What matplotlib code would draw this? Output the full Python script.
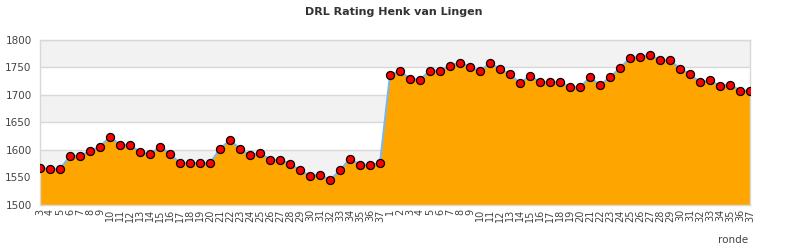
import numpy as np
import matplotlib
matplotlib.use("Agg")
import matplotlib.pyplot as plt

# Rating per round (two seasons back to back)
rounds_a = list(range(3, 38))
rating_a = [1567, 1565, 1565, 1589, 1589, 1598, 1606, 1624, 1609, 1609,
            1596, 1592, 1606, 1593, 1576, 1576, 1576, 1576, 1602, 1618,
            1602, 1590, 1595, 1582, 1582, 1575, 1563, 1553, 1555, 1545,
            1563, 1584, 1573, 1573, 1576]
rounds_b = list(range(1, 38))
rating_b = [1736, 1744, 1729, 1728, 1744, 1744, 1753, 1759, 1751, 1743,
            1758, 1747, 1738, 1721, 1735, 1723, 1723, 1723, 1714, 1714,
            1732, 1718, 1732, 1749, 1767, 1769, 1773, 1763, 1763, 1748,
            1738, 1723, 1727, 1716, 1719, 1708, 1708]

labels = [str(r) for r in rounds_a + rounds_b]
ratings = rating_a + rating_b
x = np.arange(len(ratings))

Y_MIN, Y_MAX, Y_STEP = 1500, 1800, 50

fig = plt.figure(figsize=(7.9, 2.5), dpi=100)
ax = fig.add_axes([40 / 790, 45 / 250, 710 / 790, 165 / 250])

# alternating background bands
for i, lo in enumerate(range(Y_MIN, Y_MAX, Y_STEP)):
    if i % 2 == 1:
        ax.axhspan(lo, lo + Y_STEP, color="#f2f2f2", zorder=0, lw=0)
for yv in range(Y_MIN, Y_MAX + 1, Y_STEP):
    ax.axhline(yv, color="#d8d8d8", lw=1, zorder=1)

ax.fill_between(x, ratings, Y_MIN, color="#ffa500", lw=0, zorder=2)
ax.plot(x, ratings, color="#7cb5ec", lw=1.5, zorder=3)
ax.plot(x, ratings, ls="none", marker="o", ms=5.8, mfc="#ff0000",
        mec="black", mew=0.9, zorder=4)

ax.set_xlim(0, len(ratings) - 1)
ax.set_ylim(Y_MIN, Y_MAX)
ax.set_yticks(range(Y_MIN, Y_MAX + 1, Y_STEP))
ax.set_xticks(x)
ax.set_xticklabels(labels, rotation=90, fontsize=7, color="#444444")
ax.tick_params(axis="y", length=0, labelsize=7.5, labelcolor="#444444", pad=6)
ax.tick_params(axis="x", length=0, pad=3)
for s in ax.spines.values():
    s.set_color("#d8d8d8")
    s.set_linewidth(1)

fig.text(748 / 790, 1 - 240 / 250, "ronde", ha="right", va="center",
         fontsize=7.5, color="#444444")
fig.text(394 / 790, 1 - 12 / 250, "DRL Rating Henk van Lingen", ha="center",
         va="center", fontsize=8, fontweight="bold", color="#333333")

fig.savefig("out.png", dpi=100)
